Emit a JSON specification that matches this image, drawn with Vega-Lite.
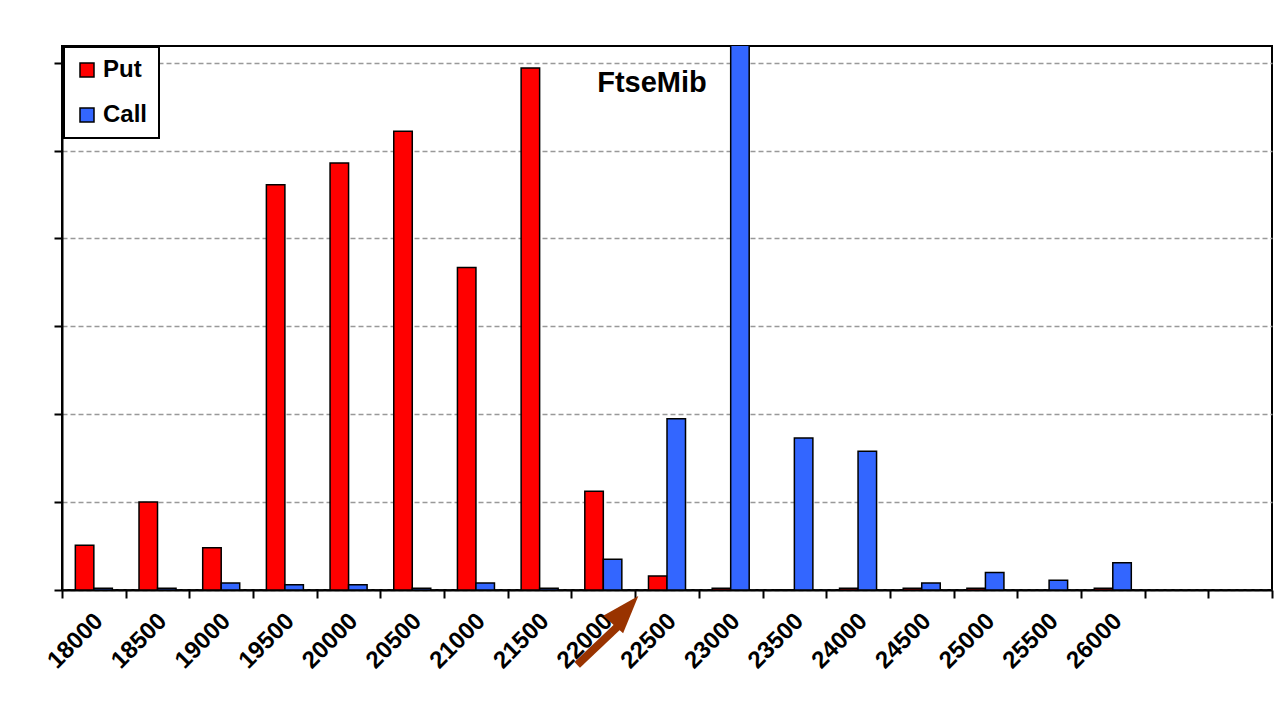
{
  "$schema": "https://vega.github.io/schema/vega-lite/v6.json",
  "autosize": {"type": "none"},
  "padding": {"left": 62, "top": 46, "right": 12, "bottom": 136},
  "width": 1210,
  "height": 544,
  "background": "white",
  "title": {"text": "FtseMib", "font": "Liberation Sans", "fontSize": 29, "fontWeight": "bold", "color": "black", "anchor": "middle", "frame": "group", "orient": "top", "baseline": "alphabetic", "offset": -75, "dx": -15},
  "config": {
    "view": {"stroke": "black", "strokeWidth": 2},
    "font": "Liberation Sans",
    "axisY": {"tickSize": 8, "tickWidth": 2, "tickColor": "black", "domainColor": "black", "domainWidth": 2, "gridColor": "#999999", "gridDash": [5, 3], "gridWidth": 1.3}
  },
  "datasets": {
    "options": [
      {"strike": 18000, "type": "Put", "value": 0.51}, {"strike": 18000, "type": "Call", "value": 0.02},
      {"strike": 18500, "type": "Put", "value": 1.0}, {"strike": 18500, "type": "Call", "value": 0.02},
      {"strike": 19000, "type": "Put", "value": 0.48}, {"strike": 19000, "type": "Call", "value": 0.08},
      {"strike": 19500, "type": "Put", "value": 4.61}, {"strike": 19500, "type": "Call", "value": 0.06},
      {"strike": 20000, "type": "Put", "value": 4.86}, {"strike": 20000, "type": "Call", "value": 0.06},
      {"strike": 20500, "type": "Put", "value": 5.22}, {"strike": 20500, "type": "Call", "value": 0.02},
      {"strike": 21000, "type": "Put", "value": 3.67}, {"strike": 21000, "type": "Call", "value": 0.08},
      {"strike": 21500, "type": "Put", "value": 5.94}, {"strike": 21500, "type": "Call", "value": 0.02},
      {"strike": 22000, "type": "Put", "value": 1.125}, {"strike": 22000, "type": "Call", "value": 0.35},
      {"strike": 22500, "type": "Put", "value": 0.16}, {"strike": 22500, "type": "Call", "value": 1.95},
      {"strike": 23000, "type": "Put", "value": 0.02}, {"strike": 23000, "type": "Call", "value": 7.5},
      {"strike": 23500, "type": "Put", "value": -0.015}, {"strike": 23500, "type": "Call", "value": 1.73},
      {"strike": 24000, "type": "Put", "value": 0.02}, {"strike": 24000, "type": "Call", "value": 1.58},
      {"strike": 24500, "type": "Put", "value": 0.02}, {"strike": 24500, "type": "Call", "value": 0.08},
      {"strike": 25000, "type": "Put", "value": 0.02}, {"strike": 25000, "type": "Call", "value": 0.2},
      {"strike": 25500, "type": "Call", "value": 0.11},
      {"strike": 26000, "type": "Put", "value": 0.02}, {"strike": 26000, "type": "Call", "value": 0.31}
    ],
    "arrow": [{"x_start": 21795, "y_start": -0.852, "x_end": 22110, "y_end": -0.42}],
    "arrowhead": [{"x": 22176, "y": -0.23}]
  },
  "layer": [
    {
      "data": {"name": "options"},
      "mark": {"type": "bar", "clip": true, "stroke": "black", "strokeWidth": 1.5, "opacity": 1},
      "encoding": {
        "x": {
          "field": "strike", "type": "ordinal",
          "scale": {"domain": [18000, 18500, 19000, 19500, 20000, 20500, 21000, 21500, 22000, 22500, 23000, 23500, 24000, 24500, 25000, 25500, 26000, 26500, 27000], "paddingInner": 0, "paddingOuter": 0},
          "axis": {"title": null, "labelAngle": -45, "labelAlign": "right", "labelBaseline": "middle", "labelFont": "Liberation Sans", "labelFontSize": 24, "labelFontWeight": "bold", "labelColor": "black", "labelPadding": 19, "labelOffset": 5, "labelOverlap": false, "labelBound": false, "labelFlush": false, "tickBand": "extent", "tickSize": 8, "tickWidth": 2, "tickColor": "black", "domainColor": "black", "domainWidth": 2, "grid": false, "labelExpr": "datum.value > 26000 ? '' : datum.label"}
        },
        "xOffset": {"field": "type", "type": "nominal", "scale": {"domain": ["Put", "Call"], "paddingInner": 0, "paddingOuter": 0.72}},
        "y": {
          "field": "value", "type": "quantitative",
          "scale": {"domain": [0, 6.19], "nice": false, "zero": false},
          "axis": {"title": null, "labels": false, "values": [0, 1, 2, 3, 4, 5, 6], "grid": true}
        },
        "color": {
          "field": "type", "type": "nominal",
          "scale": {"domain": ["Put", "Call"], "range": ["#FF0000", "#3366FF"]},
          "legend": {"title": null, "orient": "none", "legendX": 2, "legendY": 1, "direction": "vertical", "fillColor": "white", "strokeColor": "black", "padding": 11, "symbolType": "square", "symbolSize": 196, "symbolStrokeColor": "black", "symbolStrokeWidth": 1.5, "symbolOffset": 0, "symbolOpacity": 1, "labelFont": "Liberation Sans", "labelFontSize": 24, "labelFontWeight": "bold", "labelColor": "black", "labelOffset": 4, "rowPadding": 21,
            "encode": {"legend": {"update": {"strokeWidth": {"value": 2}}}}}
        }
      }
    },
    {
      "data": {"name": "arrow"},
      "mark": {"type": "rule", "color": "#993300", "strokeWidth": 8, "strokeCap": "butt"},
      "encoding": {
        "x": {"field": "x_start", "type": "quantitative", "scale": {"domain": [17750, 27250], "nice": false, "zero": false}, "axis": null},
        "x2": {"field": "x_end"},
        "y": {"field": "y_start", "type": "quantitative", "scale": {"domain": [0, 6.19], "nice": false, "zero": false}, "axis": {"title": null, "labels": false, "values": [0, 1, 2, 3, 4, 5, 6], "grid": true}},
        "y2": {"field": "y_end"}
      }
    },
    {
      "data": {"name": "arrowhead"},
      "mark": {"type": "point", "shape": "M0,-1L0.7,1L-0.7,1Z", "filled": true, "color": "#993300", "opacity": 1, "size": 1444, "angle": 41.5},
      "encoding": {
        "x": {"field": "x", "type": "quantitative", "scale": {"domain": [17750, 27250], "nice": false, "zero": false}, "axis": null},
        "y": {"field": "y", "type": "quantitative", "scale": {"domain": [0, 6.19], "nice": false, "zero": false}, "axis": {"title": null, "labels": false, "values": [0, 1, 2, 3, 4, 5, 6], "grid": true}}
      }
    }
  ],
  "resolve": {"scale": {"x": "independent"}}
}
